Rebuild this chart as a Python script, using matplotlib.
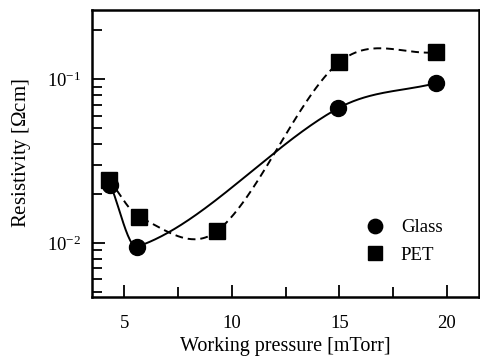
import numpy as np
import matplotlib
matplotlib.use('Agg')
import matplotlib.pyplot as plt
from matplotlib.ticker import NullFormatter, MultipleLocator, LogLocator

plt.rcParams['font.family'] = ['Liberation Serif', 'DejaVu Serif']
plt.rcParams['mathtext.fontset'] = 'custom'
plt.rcParams['mathtext.rm'] = 'Liberation Serif'
plt.rcParams['mathtext.it'] = 'Liberation Serif:italic'

# resistivity vs working pressure
p_glass = [4.35, 5.6, 14.95, 19.5]
r_glass = [0.0226, 0.0095, 0.0665, 0.0946]
p_pet = [4.3, 5.7, 9.3, 15.0, 19.5]
r_pet = [0.0242, 0.0144, 0.0118, 0.127, 0.146]


def smooth(x, y, n=300):
   # cubic hermite (catmull-rom slopes) through the points, in log10(y)
   x = np.asarray(x, float)
   y = np.log10(np.asarray(y, float))
   k = len(x)
   m = np.zeros(k)
   m[0] = (y[1]-y[0])/(x[1]-x[0])
   m[-1] = (y[-1]-y[-2])/(x[-1]-x[-2])
   for i in range(1, k-1):
      m[i] = (y[i+1]-y[i-1])/(x[i+1]-x[i-1])
   xs = np.linspace(x[0], x[-1], n)
   j = np.clip(np.searchsorted(x, xs) - 1, 0, k-2)
   h = x[j+1] - x[j]
   t = (xs - x[j])/h
   h00 = 2*t**3 - 3*t**2 + 1
   h10 = t**3 - 2*t**2 + t
   h01 = -2*t**3 + 3*t**2
   h11 = t**3 - t**2
   ys = h00*y[j] + h10*h*m[j] + h01*y[j+1] + h11*h*m[j+1]
   return xs, 10**ys


fig = plt.figure(figsize=(4.8, 3.62), dpi=100)
ax = fig.add_axes([0.192, 0.180, 0.806, 0.792])

xs, ys = smooth(p_glass, r_glass)
ax.plot(xs, ys, 'k-', lw=1.4)
xs, ys = smooth(p_pet, r_pet)
ax.plot(xs, ys, 'k--', lw=1.4, dashes=(4, 2.5))

ax.plot(p_glass, r_glass, 'ko', ms=11.5, ls='none', label='Glass')
ax.plot(p_pet, r_pet, 'ks', ms=11, ls='none', label='PET')

ax.set_yscale('log')
ax.set_xlim(3.5, 21.5)
ax.set_ylim(0.00469, 0.264)
ax.xaxis.set_major_locator(MultipleLocator(5))
ax.xaxis.set_minor_locator(MultipleLocator(2.5))
ax.yaxis.set_major_locator(LogLocator(base=10))
ax.yaxis.set_minor_locator(LogLocator(base=10, subs=np.arange(2, 10)))
ax.yaxis.set_minor_formatter(NullFormatter())

ax.tick_params(which='both', direction='in', top=False, right=False, width=1.3, labelsize=13.5)
ax.tick_params(which='major', length=9)
ax.tick_params(axis='x', which='major', pad=13)
ax.tick_params(axis='y', which='major', pad=8)
ax.tick_params(which='minor', length=7)
for s in ax.spines.values():
   s.set_linewidth(1.8)

ax.set_xlabel('Working pressure [mTorr]', fontsize=14.5, labelpad=4)
ax.set_ylabel(r'Resistivity [$\Omega$cm]', fontsize=15, labelpad=10)

ax.legend(loc='lower right', frameon=False, fontsize=13.5, handletextpad=0.4,
          borderaxespad=0.0, labelspacing=0.55, markerscale=0.9,
          bbox_to_anchor=(0.925, 0.09))

fig.savefig('out.png', dpi=100)
